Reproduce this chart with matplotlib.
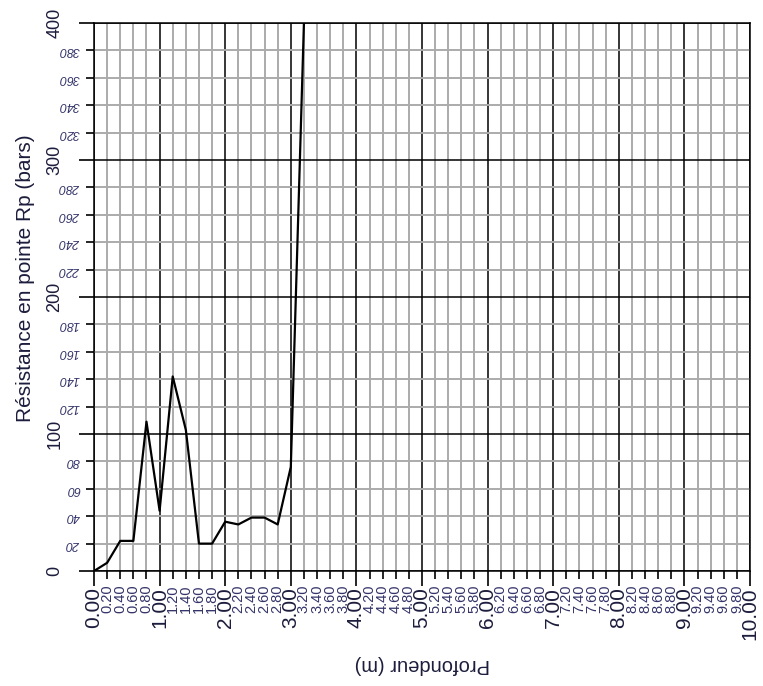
import matplotlib
matplotlib.use('Agg')
import matplotlib.pyplot as plt
import numpy as np

# profondeur (m) et resistance en pointe (bars)
depth = [0.0, 0.2, 0.4, 0.6, 0.8, 1.0, 1.2, 1.4, 1.6, 1.8, 2.0, 2.2, 2.4, 2.6, 2.8, 3.0, 3.2]
rp = [0, 6, 22, 22, 109, 44, 142, 103, 20, 20, 36, 34, 39, 39, 34, 76, 400]

x_major = [0, 1, 2, 3, 4, 5, 6, 7, 8, 9, 10]
x_minor = [m + f for m in range(10) for f in (0.2, 0.4, 0.6, 0.8)]
y_major = [0, 100, 200, 300, 400]
y_minor = [m + f for m in (0, 100, 200, 300) for f in (20, 40, 60, 80)]

txt_dark = '#1c1c3c'
txt_light = '#34346a'

plt.rcParams['font.family'] = ['Liberation Sans', 'DejaVu Sans']

fig = plt.figure(figsize=(7.63, 6.86), dpi=100)
ax = fig.add_axes([0.1232, 0.1676, 0.8598, 0.7989])

ax.plot(depth, rp, color='black', lw=1.6, zorder=3, clip_on=True)

ax.set_xlim(0, 10)
ax.set_ylim(0, 400)

ax.set_xticks(x_major)
ax.set_xticklabels(['%.2f' % v for v in x_major], rotation=90, fontsize=15, color=txt_dark)
ax.set_xticks(x_minor, minor=True)
ax.set_xticklabels(['%.2f' % v for v in x_minor], minor=True, rotation=90, fontsize=10.5, color=txt_light)

ax.set_yticks(y_major)
ax.set_yticklabels([str(v) for v in y_major], rotation=90, va='center', fontsize=13, color=txt_dark)
ax.set_yticks(y_minor, minor=True)
ax.set_yticklabels([str(v) for v in y_minor], minor=True, rotation=180, va='center',
                   fontsize=9, color=txt_light, style='italic')

ax.tick_params(axis='x', which='major', length=11, width=1.2, pad=0.5)
ax.tick_params(axis='x', which='minor', length=6, width=1.2, pad=3.5)
ax.tick_params(axis='y', which='major', length=11, width=1.2, pad=11)
ax.tick_params(axis='y', which='minor', length=6, width=1.2, pad=4)

ax.set_axisbelow(True)
ax.grid(which='minor', color='#ababab', lw=1.4)
ax.grid(which='major', color='black', lw=1.1)
for s in ax.spines.values():
    s.set_linewidth(1.1)

ax.set_ylabel('Résistance en pointe Rp (bars)', fontsize=15, color=txt_dark)
ax.yaxis.set_label_coords(-0.09, 0.535)
ax.set_xlabel('Profondeur (m)', fontsize=14.5, color=txt_dark, rotation=180)
ax.xaxis.set_label_coords(0.5, -0.153)

fig.savefig('out.png', dpi=100)
